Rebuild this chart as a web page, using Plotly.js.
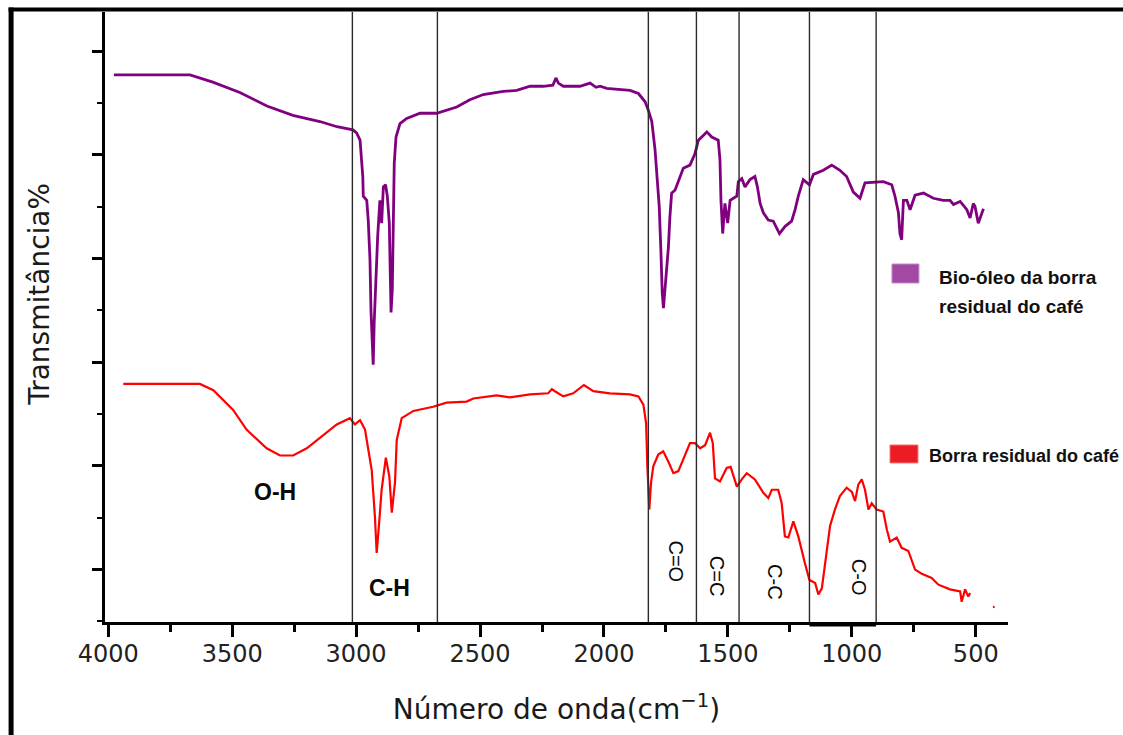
<!DOCTYPE html>
<html>
<head>
<meta charset="utf-8">
<script src="https://cdn.plot.ly/plotly-3.0.1.min.js"></script>
<style>
  html, body { margin: 0; padding: 0; background: #fff; }
  #chart { width: 1123px; height: 735px; }
</style>
</head>
<body>
<div id="chart"></div>
<script>
// ---- Data ----
const bioWavenumber = [3977, 3832, 3670, 3578, 3469, 3360, 3255, 3146, 3077, 3013,
  2998, 2984, 2978, 2973, 2971, 2957, 2951, 2944, 2940, 2935,
  2931, 2927, 2921, 2913, 2904, 2897, 2890, 2881, 2874, 2866,
  2863, 2859, 2854, 2850, 2846, 2839, 2823, 2796, 2742, 2675,
  2594, 2541, 2487, 2406, 2352, 2298, 2245, 2206, 2194, 2184,
  2164, 2097, 2056, 2032, 2016, 1989, 1949, 1895, 1861, 1834,
  1821, 1807, 1794, 1787, 1777, 1770, 1765, 1760, 1747, 1740,
  1734, 1727, 1713, 1693, 1680, 1653, 1633, 1619, 1585, 1565,
  1539, 1532, 1528, 1521, 1512, 1501, 1491, 1478, 1464, 1458,
  1444, 1431, 1411, 1391, 1381, 1370, 1357, 1337, 1317, 1292,
  1269, 1243, 1229, 1216, 1196, 1171, 1155, 1115, 1081, 1048,
  1021, 994, 967, 947, 900, 873, 839, 826, 812, 806,
  799, 792, 778, 765, 745, 711, 671, 631, 604, 590,
  563, 536, 523, 510, 503, 490, 469];
const bioTransmittance = [57.7, 57.7, 57.7, 57.0, 56.0, 54.7, 53.8, 53.2, 52.7, 52.4,
  52.1, 51.4, 49.8, 47.9, 46.0, 45.6, 43.7, 39.9, 35.0, 31.5,
  29.75, 33.8, 38.3, 42.1, 45.6, 43.4, 46.9, 47.1, 46.0, 43.4,
  39.6, 34.8, 37.0, 45.0, 49.2, 51.7, 53.0, 53.5, 54.0, 54.0,
  54.6, 55.3, 55.8, 56.1, 56.2, 56.6, 56.6, 56.7, 57.4, 56.9,
  56.6, 56.6, 56.9, 56.5, 56.6, 56.4, 56.3, 56.2, 55.9, 55.1,
  54.3, 53.2, 50.5, 48.2, 45.0, 40.5, 36.7, 35.2, 38.6, 41.1,
  44.0, 46.3, 46.6, 47.9, 48.7, 49.0, 50.1, 51.4, 52.2, 51.7,
  51.4, 49.5, 45.6, 42.4, 45.3, 43.4, 45.6, 45.8, 46.0, 47.4,
  47.7, 46.9, 47.6, 47.9, 46.9, 45.3, 44.4, 43.7, 43.6, 42.4,
  43.1, 43.6, 44.7, 46.0, 47.6, 47.1, 48.1, 48.5, 49.0, 48.5,
  47.9, 46.4, 45.8, 47.3, 47.4, 47.4, 47.1, 46.0, 44.4, 42.4,
  41.8, 45.6, 45.6, 44.7, 46.1, 46.3, 45.8, 45.6, 45.6, 45.2,
  45.5, 44.7, 43.9, 45.3, 45.0, 43.4, 44.8];

const borraWavenumber = [3939, 3791, 3630, 3576, 3496, 3442, 3361, 3307, 3254, 3199,
  3132, 3078, 3025, 3005, 2984, 2964, 2951, 2937, 2924, 2917,
  2907, 2897, 2880, 2866, 2856, 2843, 2836, 2816, 2769, 2689,
  2635, 2554, 2527, 2433, 2379, 2298, 2225, 2210, 2198, 2164,
  2124, 2081, 2043, 1976, 1895, 1861, 1841, 1830, 1825, 1817,
  1810, 1801, 1781, 1761, 1740, 1720, 1700, 1680, 1653, 1633,
  1612, 1592, 1572, 1561, 1552, 1532, 1505, 1489, 1478, 1464,
  1444, 1424, 1391, 1357, 1337, 1323, 1297, 1283, 1270, 1256,
  1236, 1216, 1189, 1171, 1148, 1135, 1121, 1101, 1088, 1068,
  1048, 1021, 1000, 987, 974, 960, 947, 933, 920, 900,
  873, 859, 846, 819, 799, 772, 745, 718, 678, 651,
  604, 563, 557, 543, 530, 523, null, 431, 424];
const borraTransmittance = [27.9, 27.9, 27.9, 27.3, 25.4, 23.5, 21.7, 21.0, 21.0, 21.7,
  23.0, 24.0, 24.6, 24.0, 24.4, 23.5, 21.6, 19.6, 15.1, 11.6,
  14.5, 17.7, 20.8, 19.0, 15.5, 18.4, 22.5, 24.6, 25.3, 25.7,
  26.1, 26.2, 26.5, 26.8, 26.6, 26.9, 27.0, 27.4, 27.2, 26.7,
  27.0, 27.8, 27.2, 27.0, 26.9, 26.7, 25.9, 24.1, 19.95, 15.8,
  18.4, 19.95, 21.1, 21.4, 20.4, 19.3, 19.5, 20.6, 22.2, 22.2,
  21.7, 22.0, 23.2, 22.2, 18.8, 18.5, 19.8, 19.9, 19.0, 18.0,
  18.7, 19.3, 18.7, 17.4, 16.9, 17.7, 17.7, 16.4, 13.2, 13.1,
  14.65, 13.2, 10.6, 9.0, 8.7, 7.6, 8.2, 11.9, 14.2, 15.8,
  17.1, 17.9, 17.5, 16.6, 18.2, 18.7, 17.7, 15.8, 16.4, 15.8,
  15.6, 13.9, 12.7, 13.1, 12.1, 11.8, 10.0, 9.6, 9.2, 8.55,
  8.1, 7.9, 6.9, 8.1, 7.4, 7.75, null, 6.4, 6.4];

// Band region boundaries (cm^-1)
const bandBoundaries = [3015, 2672, 1821, 1627, 1455, 1171, 902];
// Band labels
const bandLabels = ["O-H", "C-H", "C=O", "C=C", "C-C", "C-O"];
const bandLabelX = [3327, 2867, 1710, 1544, 1310, 971];
const bandLabelY = [17.5, 8.2, 10.8, 9.4, 8.8, 9.3];

const seriesNames = ["Bio-óleo da borra residual do café", "Borra residual do café"];
const xTickValues = [4000, 3500, 3000, 2500, 2000, 1500, 1000, 500];

// ---- Traces ----
const traces = [
  {
    x: bioWavenumber, y: bioTransmittance, type: "scatter", mode: "lines",
    name: seriesNames[0], line: { color: "#800080", width: 2.8 }, hoverinfo: "x+y"
  },
  {
    x: borraWavenumber, y: borraTransmittance, type: "scatter", mode: "lines",
    name: seriesNames[1], line: { color: "#ff0000", width: 2.2 }, connectgaps: false, hoverinfo: "x+y"
  }
];

// ---- Shapes ----
const shapes = [];
bandBoundaries.forEach(b => {
  shapes.push({ type: "line", xref: "x", yref: "paper", x0: b, x1: b, y0: 0, y1: 1,
    line: { color: "#2a2a2a", width: 1.4 } });
});
// thick bottom edge under the last band box
shapes.push({ type: "line", xref: "x", yref: "paper", x0: bandBoundaries[5], x1: bandBoundaries[6],
  y0: -0.004, y1: -0.004, line: { color: "#000", width: 4 } });
// picture frame (left and top)
shapes.push({ type: "line", xref: "paper", yref: "paper", x0: -0.1040, x1: -0.1040, y0: 1.0075, y1: -0.2,
  line: { color: "#000", width: 5 } });
shapes.push({ type: "line", xref: "paper", yref: "paper", x0: -0.1068, x1: 1.15, y0: 1.0040, y1: 1.0040,
  line: { color: "#000", width: 4 } });
// legend swatches
shapes.push({ type: "rect", xref: "paper", yref: "paper", x0: 0.8715, x1: 0.9014, y0: 0.5557, y1: 0.5869,
  fillcolor: "#a349a4", line: { color: "#c58fc6", width: 1 } });
shapes.push({ type: "rect", xref: "paper", yref: "paper", x0: 0.8693, x1: 0.9003, y0: 0.2607, y1: 0.2902,
  fillcolor: "#ed1c24", line: { color: "#f27a7e", width: 1 } });

// ---- Annotations ----
const annotations = [];
bandLabels.forEach((t, i) => {
  const rotated = i >= 2;
  annotations.push({
    x: bandLabelX[i], y: bandLabelY[i], xref: "x", yref: "y", text: rotated ? t : "<b>" + t + "</b>",
    showarrow: false, textangle: rotated ? 90 : 0, xanchor: "center", yanchor: "middle",
    font: { family: "Liberation Sans, Arial, sans-serif", size: rotated ? 20 : 23, color: "#0a0a0a" }
  });
});
// y-axis title
annotations.push({
  x: -0.0720, y: 0.538, xref: "paper", yref: "paper", text: "Transmitância%",
  showarrow: false, textangle: -90, xanchor: "center", yanchor: "middle",
  font: { family: "DejaVu Sans, sans-serif", size: 28, color: "#1a1a1a" }
});
// legend texts
annotations.push({ x: 0.9214, y: 0.564, xref: "paper", yref: "paper", text: "<b>Bio-óleo da borra</b>",
  showarrow: false, xanchor: "left", yanchor: "middle",
  font: { family: "Liberation Sans, Arial, sans-serif", size: 19, color: "#111" } });
annotations.push({ x: 0.9214, y: 0.518, xref: "paper", yref: "paper", text: "<b>residual do café</b>",
  showarrow: false, xanchor: "left", yanchor: "middle",
  font: { family: "Liberation Sans, Arial, sans-serif", size: 19, color: "#111" } });
annotations.push({ x: 0.9104, y: 0.272, xref: "paper", yref: "paper", text: "<b>" + seriesNames[1] + "</b>",
  showarrow: false, xanchor: "left", yanchor: "middle",
  font: { family: "Liberation Sans, Arial, sans-serif", size: 18, color: "#111" } });

// ---- Layout ----
const layout = {
  width: 1123, height: 735,
  margin: { l: 105, r: 115, t: 12, b: 113, pad: 0 },
  paper_bgcolor: "#fff", plot_bgcolor: "#fff",
  showlegend: false,
  xaxis: {
    range: [4013, 370], autorange: false,
    showgrid: false, zeroline: false,
    showline: true, linecolor: "#000", linewidth: 3,
    ticks: "outside", ticklen: 12, tickwidth: 3, tickcolor: "#000",
    tickvals: xTickValues, ticktext: xTickValues.map(String),
    minor: { dtick: 250, tick0: 0, ticks: "outside", ticklen: 7, tickwidth: 3, tickcolor: "#000" },
    tickfont: { family: "DejaVu Sans, sans-serif", size: 24, color: "#222" },
    ticklabelstandoff: -4,
    title: { text: "Número de onda(cm<sup>−1</sup>)", standoff: 33,
      font: { family: "DejaVu Sans, sans-serif", size: 28, color: "#1a1a1a" } }
  },
  yaxis: {
    range: [4.95, 63.76], autorange: false,
    showgrid: false, zeroline: false,
    showline: true, linecolor: "#000", linewidth: 3,
    ticks: "outside", ticklen: 10, tickwidth: 3, tickcolor: "#000",
    tick0: 0, dtick: 10,
    minor: { dtick: 5, tick0: 0, ticks: "outside", ticklen: 5, tickwidth: 2, tickcolor: "#000" },
    showticklabels: false
  },
  shapes: shapes,
  annotations: annotations
};

Plotly.newPlot("chart", traces, layout, { displayModeBar: false, responsive: false });
</script>
</body>
</html>
